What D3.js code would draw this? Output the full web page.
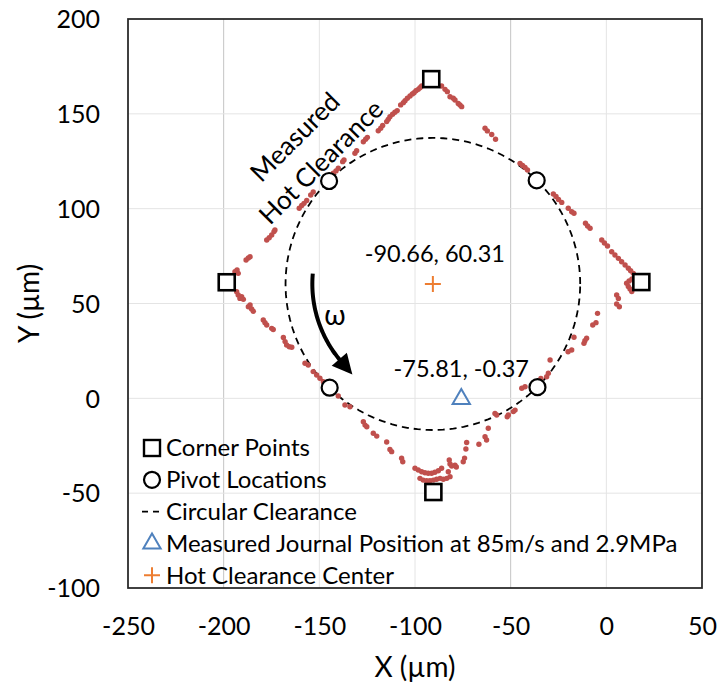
<!DOCTYPE html>
<html>
<head>
<meta charset="utf-8">
<script src="https://cdn.jsdelivr.net/npm/d3@7"></script>
<style>
  body { margin: 0; background: #fff; }
  svg text { font-family: Lato, "Open Sans", sans-serif; fill: #000; }
</style>
</head>
<body>
<svg id="chart" width="719" height="685"></svg>
<script>
// Axis ticks (µm)
const xTicks = [-250, -200, -150, -100, -50, 0, 50];
const yTicks = [-100, -50, 0, 50, 100, 150, 200];

// Corner points of the bearing clearance
const cornerX = [-198.4, -91.5, 18.3, -90.4];
const cornerY = [61.2, 168.3, 61.3, -49.4];

// Pivot locations
const pivotX = [-144.9, -36.4, -144.6, -36.0];
const pivotY = [114.6, 114.9, 5.6, 5.9];

// Hot clearance centre and circular clearance radius
const centerX = [-90.66];
const centerY = [60.31];
const clearanceRadius = [77];

// Measured journal position at 85 m/s and 2.9 MPa
const journalX = [-75.81];
const journalY = [-0.37];

// Measured hot clearance, upper-left edge
const hotUL_X = [-196.7, -194.1, -193.0, -192.4, -188.3, -187.1, -186.2, -177.5, -176.2, -174.9, -173.7, -173.2,
  -160.5, -159.2, -158.0, -156.6, -154.5, -153.2, -142.7, -141.3, -140.1, -137.8, -137.1, -131.4, -130.5,
  -127.0, -125.8, -124.9, -119.2, -117.9, -116.9, -114.8, -114.0, -113.1, -111.7, -110.5, -109.3, -107.5,
  -106.1, -105.2, -104.0, -102.6, -101.4, -100.5, -99.5, -98.3, -97.4, -96.5];
const hotUL_Y = [64.1, 66.8, 67.7, 65.9, 72.9, 74.0, 74.7, 83.5, 84.7, 86.1, 87.9, 88.8,
  100.2, 101.7, 102.8, 104.3, 107.2, 108.8, 118.7, 119.9, 121.3, 124.8, 125.7, 129.2, 130.6,
  135.3, 136.6, 137.6, 141.1, 142.4, 143.9, 145.9, 147.1, 148.5, 149.8, 150.8, 151.7, 154.7,
  155.9, 156.9, 158.2, 159.4, 160.5, 161.1, 162.2, 162.9, 163.8, 164.7];

// Measured hot clearance, upper-right edge
const hotUR_X = [-86.1, -84.3, -83.1, -81.7, -80.0, -79.1, -77.4, -76.5, -75.6, -63.4, -62.2, -59.9, -57.9,
  -45.1, -43.8, -42.5, -41.2, -27.7, -26.3, -25.0, -23.3, -19.9, -18.1, -16.9, -10.9, -9.8, -8.5,
  -2.4, -1.0, 0.6, 2.8, 4.5, 6.3, 8.0, 9.8, 11.5, 12.7, 14.1, 15.5, 10.6, 11.5, 12.4, 13.3, 11.9, 13.4];
const hotUR_Y = [164.7, 162.9, 161.7, 159.0, 158.2, 157.3, 155.5, 154.7, 153.8, 142.4, 141.0, 139.1, 136.6,
  123.9, 122.8, 121.7, 120.4, 107.7, 106.4, 104.8, 103.3, 100.2, 98.4, 97.6, 92.3, 90.9, 89.7,
  83.5, 81.9, 80.3, 77.3, 75.6, 73.8, 72.0, 70.3, 68.6, 67.3, 65.9, 64.5, 60.7, 59.0, 57.7, 56.3, 61.9, 62.9];

// Measured hot clearance, lower-right edge
const hotLR_X = [5.4, 6.3, 5.4, 6.8, -4.6, -5.4, -7.1, -10.3, -11.2, -11.7, -16.9, -18.1, -20.0, -29.4,
  -30.3, -31.2, -34.2, -42.5, -44.2, -47.7, -48.6, -51.2, -51.8, -58.2, -57.3, -61.7, -63.4, -62.6,
  -66.6, -73.0, -73.4, -74.1, -74.8, -79.1, -78.4, -82.1, -81.7, -80.8, -82.6];
const hotLR_Y = [54.5, 52.7, 49.7, 48.3, 44.8, 39.9, 38.7, 31.7, 30.4, 29.0, 32.2, 25.5, 24.6, 20.2,
  13.2, 11.4, 10.5, 6.1, 5.3, -6.2, -7.0, -8.8, -9.7, -8.0, -8.8, -15.8, -20.2, -22.0,
  -24.2, -23.3, -26.7, -31.5, -33.4, -35.2, -36.2, -32.5, -34.6, -35.7, -38.7];

// Measured hot clearance, bottom corner (two rows)
const hotB_X = [-100.0, -98.3, -96.5, -94.8, -93.1, -91.3, -89.6, -87.8, -86.1,
  -97.4, -95.7, -93.9, -92.2, -90.4, -88.7, -86.9, -85.2, -83.4, -81.7];
const hotB_Y = [-36.9, -37.8, -38.7, -39.2, -39.5, -39.5, -39.0, -38.2, -36.9,
  -42.2, -43.1, -43.4, -43.4, -43.1, -42.7, -42.2, -42.7, -42.2, -41.3];

// Measured hot clearance, lower-left edge
const hotLL_X = [-195.0, -193.2, -192.4, -190.6, -191.5, -189.7, -187.1, -186.2, -185.4, -184.5, -179.3,
  -178.4, -177.5, -174.9, -174.1, -168.8, -167.9, -167.1, -165.7, -164.4, -157.5, -155.8, -153.2,
  -151.4, -149.7, -147.9, -140.1, -136.6, -134.0, -127.0, -126.1, -125.2, -121.8, -120.0, -114.8,
  -113.1, -112.2, -107.0, -106.4];
const hotLL_Y = [58.7, 56.2, 54.5, 53.6, 52.7, 52.2, 48.3, 49.2, 47.1, 45.9, 41.3,
  39.9, 38.7, 36.9, 36.3, 32.1, 29.9, 28.1, 27.2, 26.9, 18.5, 17.6, 14.1,
  12.3, 10.6, 8.8, 1.2, -3.5, -4.4, -12.3, -14.1, -15.0, -18.4, -19.9, -23.0,
  -27.0, -28.1, -31.6, -33.4];

// Rotation arrow: arc about the clearance centre (degrees, data units)
const arrowRadius = [63];
const arrowAngles = [175, 221];

const legendLabels = ["Corner Points", "Pivot Locations", "Circular Clearance",
  "Measured Journal Position at 85m/s and 2.9MPa", "Hot Clearance Center"];

// ---------------------------------------------------------------
const W = 719, H = 685;
const margin = { left: 128, top: 19, right: 17, bottom: 97 };
const svg = d3.select("#chart");
svg.append("rect").attr("width", W).attr("height", H).attr("fill", "#fff");

const x = d3.scaleLinear().domain([-250, 50]).range([margin.left, W - margin.right]);
const y = d3.scaleLinear().domain([-100, 200]).range([H - margin.bottom, margin.top]);

const RED = "#C0504D", BLUE = "#4F81BD", ORANGE = "#ED7D31";

// Gridlines
const grid = svg.append("g");
grid.selectAll("line.gx").data(xTicks.slice(1, -1)).join("line")
  .attr("x1", d => x(d)).attr("x2", d => x(d))
  .attr("y1", y(-100)).attr("y2", y(200))
  .attr("stroke", d => (d === -200 || d === -50) ? "#c4c4c4" : "#e4e4e4").attr("stroke-width", 1);
grid.selectAll("line.gy").data(yTicks.slice(1, -1)).join("line")
  .attr("y1", d => y(d)).attr("y2", d => y(d))
  .attr("x1", x(-250)).attr("x2", x(50))
  .attr("stroke", "#e4e4e4").attr("stroke-width", 1);

// Axes (labels only, plain hyphen for negatives)
const fmt = d => String(d);
const xAxis = d3.axisBottom(x).tickValues(xTicks).tickFormat(fmt).tickSize(0).tickPadding(29);
const yAxis = d3.axisLeft(y).tickValues(yTicks).tickFormat(fmt).tickSize(0).tickPadding(28);
const gx = svg.append("g").attr("transform", `translate(0,${y(-100)})`).call(xAxis);
const gy = svg.append("g").attr("transform", `translate(${x(-250)},0)`).call(yAxis);
[gx, gy].forEach(g => {
  g.select(".domain").remove();
  g.selectAll("text").style("font-size", "25px").attr("fill", "#000");
});
gy.selectAll("text").attr("dy", "0.35em");

// Plot border
svg.append("rect")
  .attr("x", x(-250)).attr("y", y(200))
  .attr("width", x(50) - x(-250)).attr("height", y(-100) - y(200))
  .attr("fill", "none").attr("stroke", "#262626").attr("stroke-width", 1.75);

// Axis titles
svg.append("text").attr("x", (x(-250) + x(50)) / 2).attr("y", 677)
  .attr("text-anchor", "middle").style("font-size", "28px").text("X (µm)");
svg.append("text").attr("transform", `translate(39,${(y(-100) + y(200)) / 2}) rotate(-90)`)
  .attr("text-anchor", "middle").style("font-size", "28px").text("Y (µm)");

// Circular clearance (dashed)
const cx = centerX[0], cy = centerY[0], R = clearanceRadius[0];
const circleLine = d3.line()
  .x(a => x(cx + R * Math.cos(a * Math.PI / 180)))
  .y(a => y(cy + R * Math.sin(a * Math.PI / 180)));
svg.append("path").attr("d", circleLine(d3.range(0, 361, 2)))
  .attr("fill", "none").attr("stroke", "#000").attr("stroke-width", 1.8)
  .attr("stroke-dasharray", "7,5");

// Measured hot clearance points
const hotX = [].concat(hotUL_X, hotUR_X, hotLR_X, hotB_X, hotLL_X);
const hotY = [].concat(hotUL_Y, hotUR_Y, hotLR_Y, hotB_Y, hotLL_Y);
svg.append("g").selectAll("circle").data(hotX.map((v, i) => [v, hotY[i]])).join("circle")
  .attr("cx", d => x(d[0])).attr("cy", d => y(d[1])).attr("r", 2.7).attr("fill", RED);

// Corner points
const sq = 16;
svg.append("g").selectAll("rect").data(cornerX.map((v, i) => [v, cornerY[i]])).join("rect")
  .attr("x", d => x(d[0]) - sq / 2).attr("y", d => y(d[1]) - sq / 2)
  .attr("width", sq).attr("height", sq)
  .attr("fill", "#fff").attr("stroke", "#000").attr("stroke-width", 2.6);

// Pivot locations
svg.append("g").selectAll("circle").data(pivotX.map((v, i) => [v, pivotY[i]])).join("circle")
  .attr("cx", d => x(d[0])).attr("cy", d => y(d[1])).attr("r", 8)
  .attr("fill", "#fff").attr("stroke", "#000").attr("stroke-width", 2.2);

// Journal position triangle
const tri = d3.symbol().type(d3.symbolTriangle).size(130);
svg.append("path").attr("d", tri())
  .attr("transform", `translate(${x(journalX[0])},${y(journalY[0])})`)
  .attr("fill", "none").attr("stroke", BLUE).attr("stroke-width", 2);

// Hot clearance centre (+)
function plus(g, px, py, s) {
  g.append("path").attr("d", `M${px - s},${py}H${px + s}M${px},${py - s}V${py + s}`)
    .attr("stroke", ORANGE).attr("stroke-width", 2).attr("fill", "none");
}
plus(svg, x(cx), y(cy), 8);

// Value labels
svg.append("text").attr("x", x(cx) + 2).attr("y", y(cy) - 22)
  .attr("text-anchor", "middle").style("font-size", "23.5px")
  .text(`${centerX[0].toFixed(2)}, ${centerY[0].toFixed(2)}`);
svg.append("text").attr("x", x(journalX[0])).attr("y", y(journalY[0]) - 22)
  .attr("text-anchor", "middle").style("font-size", "23.5px")
  .text(`${journalX[0].toFixed(2)}, ${journalY[0].toFixed(2)}`);

// Rotated annotation
svg.append("text").attr("transform", "translate(295,137) rotate(-45)")
  .attr("text-anchor", "middle").attr("dy", "0.35em").style("font-size", "26px").text("Measured");
svg.append("text").attr("transform", "translate(321,162) rotate(-45)")
  .attr("text-anchor", "middle").attr("dy", "0.35em").style("font-size", "26px").text("Hot Clearance");

// Rotation arrow with ω
const defs = svg.append("defs");
defs.append("marker").attr("id", "arrowHead")
  .attr("viewBox", "0 0 10 10").attr("refX", 2).attr("refY", 5)
  .attr("markerUnits", "userSpaceOnUse").attr("markerWidth", 22).attr("markerHeight", 20)
  .attr("orient", "auto")
  .append("path").attr("d", "M0,0L10,5L0,10Z").attr("fill", "#000");
const arrowLine = d3.line()
  .x(a => x(cx + arrowRadius[0] * Math.cos(a * Math.PI / 180)))
  .y(a => y(cy + arrowRadius[0] * Math.sin(a * Math.PI / 180)))
  .curve(d3.curveBasis);
svg.append("path").attr("d", arrowLine(d3.range(arrowAngles[0], arrowAngles[1] + 0.1, 1)))
  .attr("fill", "none").attr("stroke", "#000").attr("stroke-width", 4)
  .attr("marker-end", "url(#arrowHead)");
svg.append("text").attr("x", 335).attr("y", 315).attr("text-anchor", "middle")
  .attr("dy", "0.35em").style("font-size", "28px").text("ω");

// Legend
const legend = svg.append("g").attr("transform", "translate(152,448)");
const rowH = 31.8;
legendLabels.forEach((lab, i) => {
  const g = legend.append("g").attr("transform", `translate(0,${i * rowH})`);
  if (i === 0) g.append("rect").attr("x", -8).attr("y", -8).attr("width", 16).attr("height", 16)
    .attr("fill", "#fff").attr("stroke", "#000").attr("stroke-width", 2.4);
  if (i === 1) g.append("circle").attr("r", 8).attr("fill", "#fff").attr("stroke", "#000").attr("stroke-width", 2.2);
  if (i === 2) g.append("line").attr("x1", -10).attr("x2", 10)
    .attr("stroke", "#000").attr("stroke-width", 1.8).attr("stroke-dasharray", "6,5");
  if (i === 3) g.append("path").attr("d", tri()).attr("fill", "none").attr("stroke", BLUE).attr("stroke-width", 2);
  if (i === 4) plus(g, 0, 0, 8);
  g.append("text").attr("x", 14).attr("dy", "0.35em").style("font-size", "24px").text(lab);
});
</script>
</body>
</html>
